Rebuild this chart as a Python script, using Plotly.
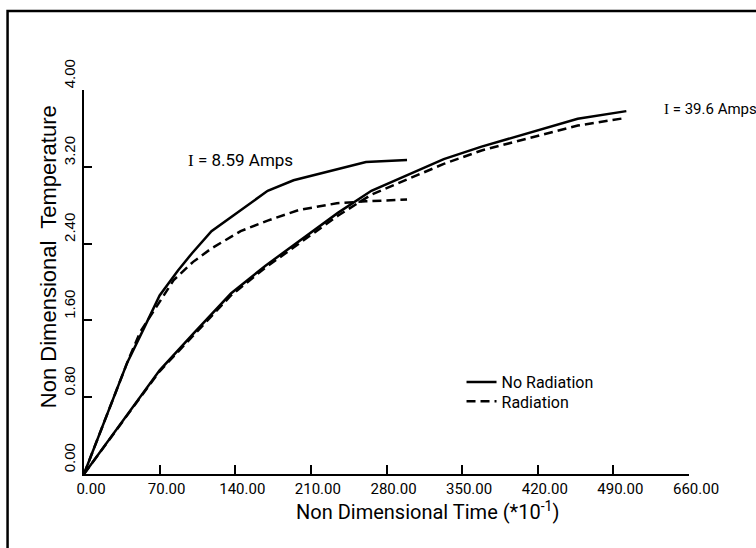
import plotly.graph_objects as go

# ---- data ----
t_859 = [0, 20, 40, 56, 70, 87, 100, 118, 145, 170, 194, 225, 261, 299]
no_rad_859 = [0, 0.58, 1.16, 1.53, 1.86, 2.12, 2.30, 2.53, 2.75, 2.95, 3.06, 3.15, 3.25, 3.27]

t_859_rad = [0, 20, 40, 52, 70, 83, 101, 118, 145, 170, 199, 234, 261, 299]
rad_859 = [0, 0.58, 1.16, 1.48, 1.80, 2.02, 2.21, 2.35, 2.53, 2.64, 2.75, 2.82, 2.84, 2.86]

t_396 = [0, 52, 70, 101, 136, 168, 208, 235, 266, 301, 333, 368, 413, 457, 502]
no_rad_396 = [0, 0.80, 1.08, 1.46, 1.88, 2.17, 2.50, 2.72, 2.95, 3.12, 3.28, 3.41, 3.56, 3.70, 3.78]
rad_396 = [0, 0.79, 1.07, 1.44, 1.86, 2.15, 2.47, 2.69, 2.91, 3.08, 3.23, 3.37, 3.50, 3.63, 3.71]

x_tickvals = [0, 70, 140, 210, 280, 350, 420, 490, 560]
x_ticktext = ["0.00", "70.00", "140.00", "210.00", "280.00", "350.00", "420.00", "490.00", "660.00"]
y_tickvals = [0, 0.8, 1.6, 2.4, 3.2, 4.0]
y_ticktext = ["0.00", "0.80", "1.60", "2.40", "3.20", "4.00"]

x_title = "Non Dimensional Time (*10<sup>-1</sup>)"
y_title = "Non Dimensional  Temperature"

NARROW = "Roboto, Liberation Sans, sans-serif"
REG = "Liberation Sans, Arial, Helvetica, sans-serif"

fig = go.Figure()
solid = dict(color="black", width=2.5)
dashed = dict(color="black", width=2.5, dash="9px,5px")

fig.add_trace(go.Scatter(x=t_859, y=no_rad_859, mode="lines", line=solid,
                         name="No Radiation", showlegend=True, legend="legend"))
fig.add_trace(go.Scatter(x=t_859_rad, y=rad_859, mode="lines", line=dashed,
                         name="Radiation", showlegend=True, legend="legend2"))
fig.add_trace(go.Scatter(x=t_396, y=no_rad_396, mode="lines", line=solid,
                         name="No Radiation 39.6", showlegend=False))
fig.add_trace(go.Scatter(x=t_396, y=rad_396, mode="lines", line=dashed,
                         name="Radiation 39.6", showlegend=False))

leg_common = dict(xanchor="left", yanchor="middle", bgcolor="rgba(0,0,0,0)",
                  font=dict(family=NARROW, size=16, color="black"))

fig.update_layout(
    width=756, height=548,
    margin=dict(l=84, r=66.5, t=90, b=74.4, pad=0),
    paper_bgcolor="white", plot_bgcolor="white",
    font=dict(family=NARROW, color="black", size=16),
    showlegend=True,
    legend=dict(x=0.624, y=0.239, **leg_common),
    legend2=dict(x=0.624, y=0.189, **leg_common),
    xaxis=dict(range=[0, 560], tickmode="array", tickvals=x_tickvals, ticktext=x_ticktext,
               automargin=False,
               showgrid=False, zeroline=False, showline=True, linecolor="black", linewidth=2,
               ticks="inside", ticklen=9, tickwidth=2, tickcolor="black",
               tickfont=dict(family=NARROW, size=15), ticklabelshift=7),
    yaxis=dict(range=[0, 4], tickmode="array", tickvals=y_tickvals, ticktext=y_ticktext,
               automargin=False,
               showgrid=False, zeroline=False, showline=True, linecolor="black", linewidth=2,
               ticks="inside", ticklen=8, tickwidth=2, tickcolor="black",
               tickangle=-90, ticklabelshift=-14, ticklabelstandoff=1,
               tickfont=dict(family=REG, size=15)),
)

# axis titles (placed as in the reference, off-centre)
fig.add_annotation(x=0.568, y=-0.0975, xref="paper", yref="paper",
                   xanchor="center", yanchor="middle", showarrow=False,
                   text=x_title, font=dict(family=NARROW, size=20))
fig.add_annotation(x=-0.0595, y=0.5647, xref="paper", yref="paper",
                   xanchor="center", yanchor="middle", showarrow=False, textangle=-90,
                   text=y_title, font=dict(family=REG, size=22))

# outer frame of the figure page
fig.add_shape(type="rect", xref="paper", yref="paper",
              x0=(7.5 - 84) / 605.5, x1=(770 - 84) / 605.5,
              y0=(473.6 - 560) / 383.6, y1=(473.6 - 11) / 383.6,
              line=dict(color="black", width=2.5), fillcolor="rgba(0,0,0,0)", layer="below")

fig.add_annotation(x=94, y=3.27, xref="x", yref="y", xanchor="left", yanchor="middle",
                   text="<span style='font-family:Liberation Serif'>I</span> = 8.59 Amps",
                   showarrow=False, font=dict(family=NARROW, size=17))
fig.add_annotation(x=535, y=3.80, xref="x", yref="y", xanchor="left", yanchor="middle",
                   text="<span style='font-family:Liberation Serif'>I</span> = 39.6 Amps",
                   showarrow=False, font=dict(family=NARROW, size=15))

fig.write_html("out.html", config={"displayModeBar": False},
               post_script="document.body.style.margin='0px';document.body.style.overflow='hidden';")
